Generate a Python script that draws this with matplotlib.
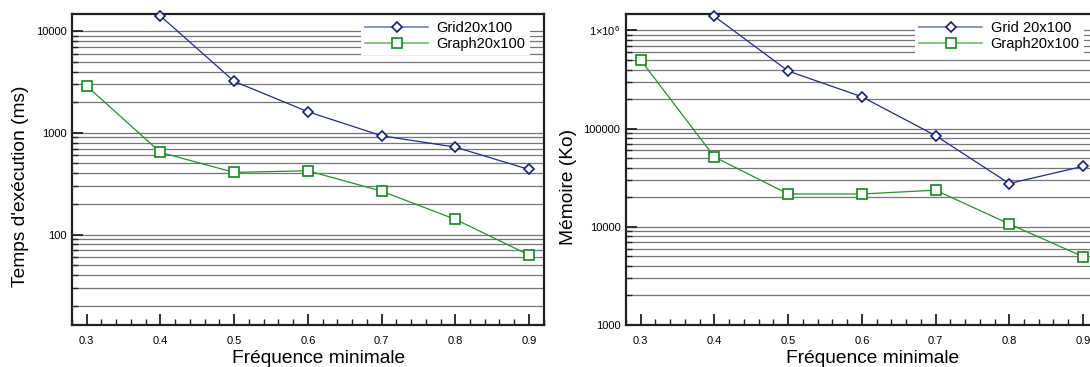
import matplotlib
matplotlib.use("Agg")
import matplotlib.pyplot as plt
import matplotlib.ticker as mticker
from matplotlib.lines import Line2D

# ── data ─────────────────────────────────────────────────────────────────────
freq = [0.3, 0.4, 0.5, 0.6, 0.7, 0.8, 0.9]

time_grid_x = [0.4, 0.5, 0.6, 0.7, 0.8, 0.9]
time_grid = [14050, 3200, 1610, 935, 723, 436]
time_graph = [2880, 641, 408, 423, 267, 141, 63]

mem_grid_x = [0.4, 0.5, 0.6, 0.7, 0.8, 0.9]
mem_grid = [1390000, 386000, 211000, 84900, 27600, 41300]
mem_graph = [499000, 51400, 21600, 21600, 23600, 10700, 4970]

x_ticks = [0.3, 0.4, 0.5, 0.6, 0.7, 0.8, 0.9]
time_ticks = [100, 1000, 10000]
mem_ticks = [1000, 10000, 100000, 1000000]
mem_tick_labels = ["1000", "10000", "100000", r"1×10$^{6}$"]

BLUE = "#1f2a96"
BLUE_MK = "#141c8a"
GREEN = "#23922a"
GREEN_MK = "#118a1a"

plt.rcParams.update({
    "font.family": ["Liberation Sans", "DejaVu Sans"],
    "mathtext.fontset": "custom",
    "mathtext.rm": "Liberation Sans",
    "mathtext.it": "Liberation Sans",
})

fig = plt.figure(figsize=(10.9, 3.67), dpi=100)
ax1 = fig.add_axes([72 / 1090, 42 / 367, 472 / 1090, 311 / 367])
ax2 = fig.add_axes([626 / 1090, 42 / 367, 472 / 1090, 311 / 367])


def style(ax, ylim, yticks, ylabels, ylabel, leg_labels):
    ax.set_yscale("log")
    ax.set_xlim(0.28, 0.9204)
    ax.set_ylim(*ylim)
    ax.set_xticks(x_ticks)
    ax.set_xticklabels([f"{v:.1f}" for v in x_ticks])
    ax.xaxis.set_minor_locator(mticker.MultipleLocator(0.02))
    ax.set_yticks(yticks)
    ax.set_yticklabels(ylabels)
    ax.yaxis.set_minor_locator(mticker.LogLocator(base=10, subs=range(2, 10)))
    ax.yaxis.set_minor_formatter(mticker.NullFormatter())
    ax.grid(True, axis="y", which="both", color="#767676", linewidth=0.9)
    ax.set_axisbelow(True)
    ax.tick_params(axis="both", which="major", direction="in", length=8, width=1.3,
                   labelsize=8, pad=4, color="#222")
    ax.tick_params(axis="x", which="major", pad=8)
    ax.tick_params(axis="both", which="minor", direction="in", length=4, width=1,
                   color="#222")
    ax.tick_params(top=False, right=False, which="both")
    for s in ax.spines.values():
        s.set_linewidth(1.6)
        s.set_color("#222")
    ax.set_xlabel("Fréquence minimale", fontsize=13.8, labelpad=3, x=0.522)
    ax.set_ylabel(ylabel, fontsize=13.8, labelpad=5, y=0.445)

    handles = [
        Line2D([], [], color="#7080cc", lw=1.2, marker="D", ms=5.6, mfc="white",
               mec=BLUE_MK, mew=1.2),
        Line2D([], [], color="#6cc06c", lw=1.2, marker="s", ms=6.8, mfc="white",
               mec=GREEN_MK, mew=1.2),
    ]
    leg = ax.legend(handles, leg_labels, loc="upper right",
                    bbox_to_anchor=(1 - 14 / 472, 1 - 3 / 311), borderaxespad=0,
                    fontsize=10.5, handlelength=4.3, labelspacing=0.1, borderpad=0.3,
                    handletextpad=0.6, frameon=True, fancybox=False)
    leg.get_frame().set_facecolor("white")
    leg.get_frame().set_edgecolor("none")
    leg.get_frame().set_alpha(1)


ax1.plot(time_grid_x, time_grid, color=BLUE, lw=0.9, marker="D", ms=5.6,
         mfc="white", mec=BLUE_MK, mew=1.2, clip_on=False, zorder=3)
ax1.plot(freq, time_graph, color=GREEN, lw=0.9, marker="s", ms=6.8,
         mfc="white", mec=GREEN_MK, mew=1.2, clip_on=False, zorder=3)
style(ax1, (12.9, 14700), time_ticks, [str(v) for v in time_ticks],
      "Temps d'exécution (ms)", ["Grid20x100", "Graph20x100"])

ax2.plot(mem_grid_x, mem_grid, color=BLUE, lw=0.9, marker="D", ms=5.6,
         mfc="white", mec=BLUE_MK, mew=1.2, clip_on=False, zorder=3)
ax2.plot(freq, mem_graph, color=GREEN, lw=0.9, marker="s", ms=6.8,
         mfc="white", mec=GREEN_MK, mew=1.2, clip_on=False, zorder=3)
style(ax2, (1000, 1470000), mem_ticks, mem_tick_labels,
      "Mémoire (Ko)", ["Grid 20x100", "Graph20x100"])

fig.savefig("out.png", dpi=100)
